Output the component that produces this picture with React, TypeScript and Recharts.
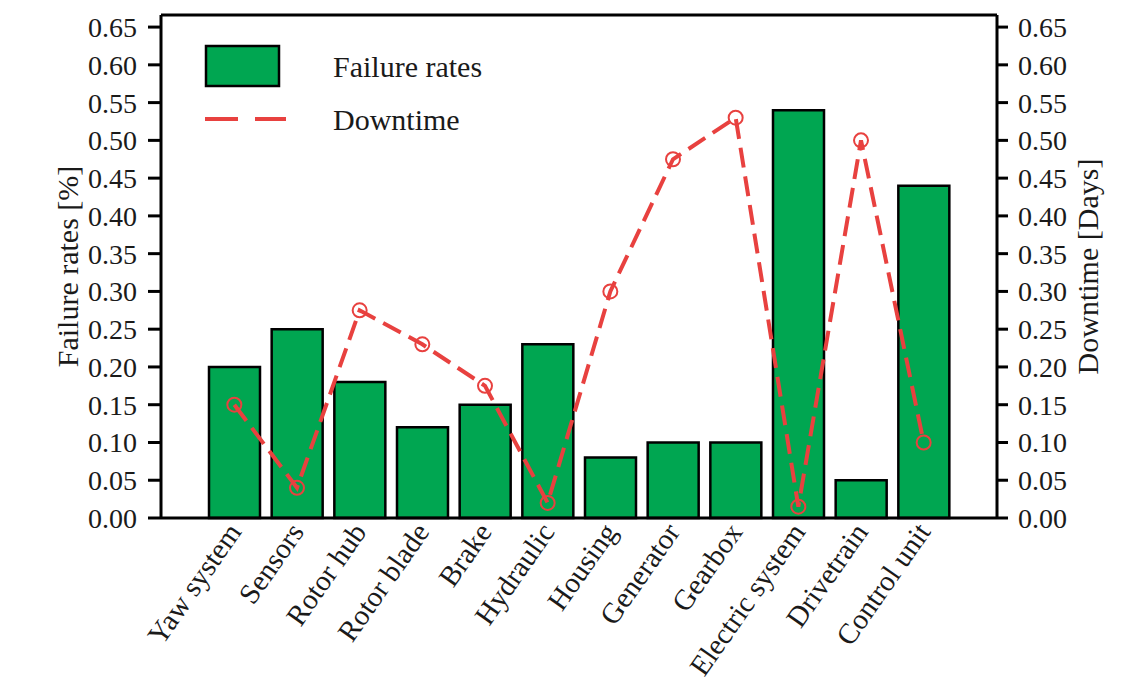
import {
  Bar,
  ComposedChart,
  Legend,
  Line,
  ReferenceLine,
  XAxis,
  YAxis,
} from "recharts";

const components = [
  "Yaw system",
  "Sensors",
  "Rotor hub",
  "Rotor blade",
  "Brake",
  "Hydraulic",
  "Housing",
  "Generator",
  "Gearbox",
  "Electric system",
  "Drivetrain",
  "Control unit",
];
const failureRates = [0.2, 0.25, 0.18, 0.12, 0.15, 0.23, 0.08, 0.1, 0.1, 0.54, 0.05, 0.44];
const downtime = [0.15, 0.04, 0.275, 0.23, 0.175, 0.02, 0.3, 0.475, 0.53, 0.015, 0.5, 0.1];
const yTicks = [0, 0.05, 0.1, 0.15, 0.2, 0.25, 0.3, 0.35, 0.4, 0.45, 0.5, 0.55, 0.6, 0.65];

const data = components.map((name, i) => ({
  name,
  failure: failureRates[i],
  downtime: downtime[i],
}));

const FONT = "Liberation Serif, Tinos, Times New Roman, DejaVu Serif, serif";
const GREEN = "#00a651";
const RED = "#e8413f";
const INK = "#1a1a1a";
const Y_MAX = 0.666;

function AngledTick(props: { x?: number; y?: number; payload?: { value: string } }) {
  const { x = 0, y = 0, payload } = props;
  return (
    <text
      x={x + 8}
      y={y + 14}
      textAnchor="end"
      transform={`rotate(-55 ${x + 8} ${y + 14})`}
      style={{ fontFamily: FONT }}
      fontSize={29}
      fill={INK}
    >
      {payload?.value}
    </text>
  );
}

function HollowDot(props: { cx?: number; cy?: number; index?: number }) {
  const { cx, cy, index } = props;
  if (cx === undefined || cy === undefined) return null;
  return <circle key={`dot-${index}`} cx={cx} cy={cy} r={7} fill="none" stroke={RED} strokeWidth={2} />;
}

function LegendBox() {
  return (
    <svg width={340} height={100} style={{ display: "block", fontFamily: FONT }}>
      <rect x={8} y={8} width={73} height={40} fill={GREEN} stroke="#000" strokeWidth={2.5} />
      <line x1={7} y1={81} x2={88} y2={81} stroke={RED} strokeWidth={4} strokeDasharray="33 17" />
      <text x={135} y={28} dominantBaseline="central" style={{ fontFamily: FONT }} fontSize={30} fill={INK}>
        Failure rates
      </text>
      <text x={135} y={81} dominantBaseline="central" style={{ fontFamily: FONT }} fontSize={30} fill={INK}>
        Downtime
      </text>
    </svg>
  );
}

const tickStyle = { fontSize: 28, fill: INK, style: { fontFamily: FONT } };
const axisLine = { stroke: "#000", strokeWidth: 3 };

export default function App() {
  return (
    <div style={{ fontFamily: FONT }}>
      <ComposedChart
        width={1124}
        height={681}
        data={data}
        margin={{ top: 7, right: 35, bottom: 21, left: 53 }}
        style={{ fontFamily: FONT }}
      >
        <XAxis
          dataKey="name"
          interval={0}
          padding={{ left: 42, right: 42 }}
          height={150}
          tickLine={false}
          tickSize={0}
          tickMargin={0}
          axisLine={axisLine}
          tick={<AngledTick />}
        />
        <YAxis
          yAxisId="left"
          width={100}
          domain={[0, Y_MAX]}
          ticks={yTicks}
          tickFormatter={(v: number) => v.toFixed(2)}
          tickSize={13}
          tickMargin={11}
          axisLine={axisLine}
          tickLine={{ stroke: "#000", strokeWidth: 3 }}
          tick={tickStyle}
          label={{
            value: "Failure rates [%]",
            angle: -90,
            position: "insideLeft",
            offset: 6,
            style: { textAnchor: "middle", fontFamily: FONT, fontSize: 30, fill: INK },
          }}
        />
        <YAxis
          yAxisId="right"
          orientation="right"
          width={100}
          domain={[0, Y_MAX]}
          ticks={yTicks}
          tickFormatter={(v: number) => v.toFixed(2)}
          tickSize={11}
          tickMargin={10}
          axisLine={axisLine}
          tickLine={{ stroke: "#000", strokeWidth: 3 }}
          tick={tickStyle}
          label={{
            value: "Downtime [Days]",
            angle: -90,
            position: "insideLeft",
            offset: 90,
            style: { textAnchor: "middle", fontFamily: FONT, fontSize: 30, fill: INK },
          }}
        />
        <ReferenceLine yAxisId="left" y={Y_MAX} stroke="#000" strokeWidth={3} />
        <Bar
          yAxisId="left"
          dataKey="failure"
          barSize={51}
          fill={GREEN}
          stroke="#000"
          strokeWidth={2.5}
          isAnimationActive={false}
        />
        <Line
          yAxisId="right"
          dataKey="downtime"
          type="linear"
          stroke={RED}
          strokeWidth={4}
          strokeDasharray="20 9"
          dot={(p: { cx?: number; cy?: number; index?: number }) => <HollowDot {...p} />}
          activeDot={false}
          isAnimationActive={false}
        />
        <Legend
          layout="horizontal"
          align="center"
          verticalAlign="middle"
          wrapperStyle={{ left: 190, top: 30, width: 340 }}
          content={() => <LegendBox />}
        />
      </ComposedChart>
    </div>
  );
}
